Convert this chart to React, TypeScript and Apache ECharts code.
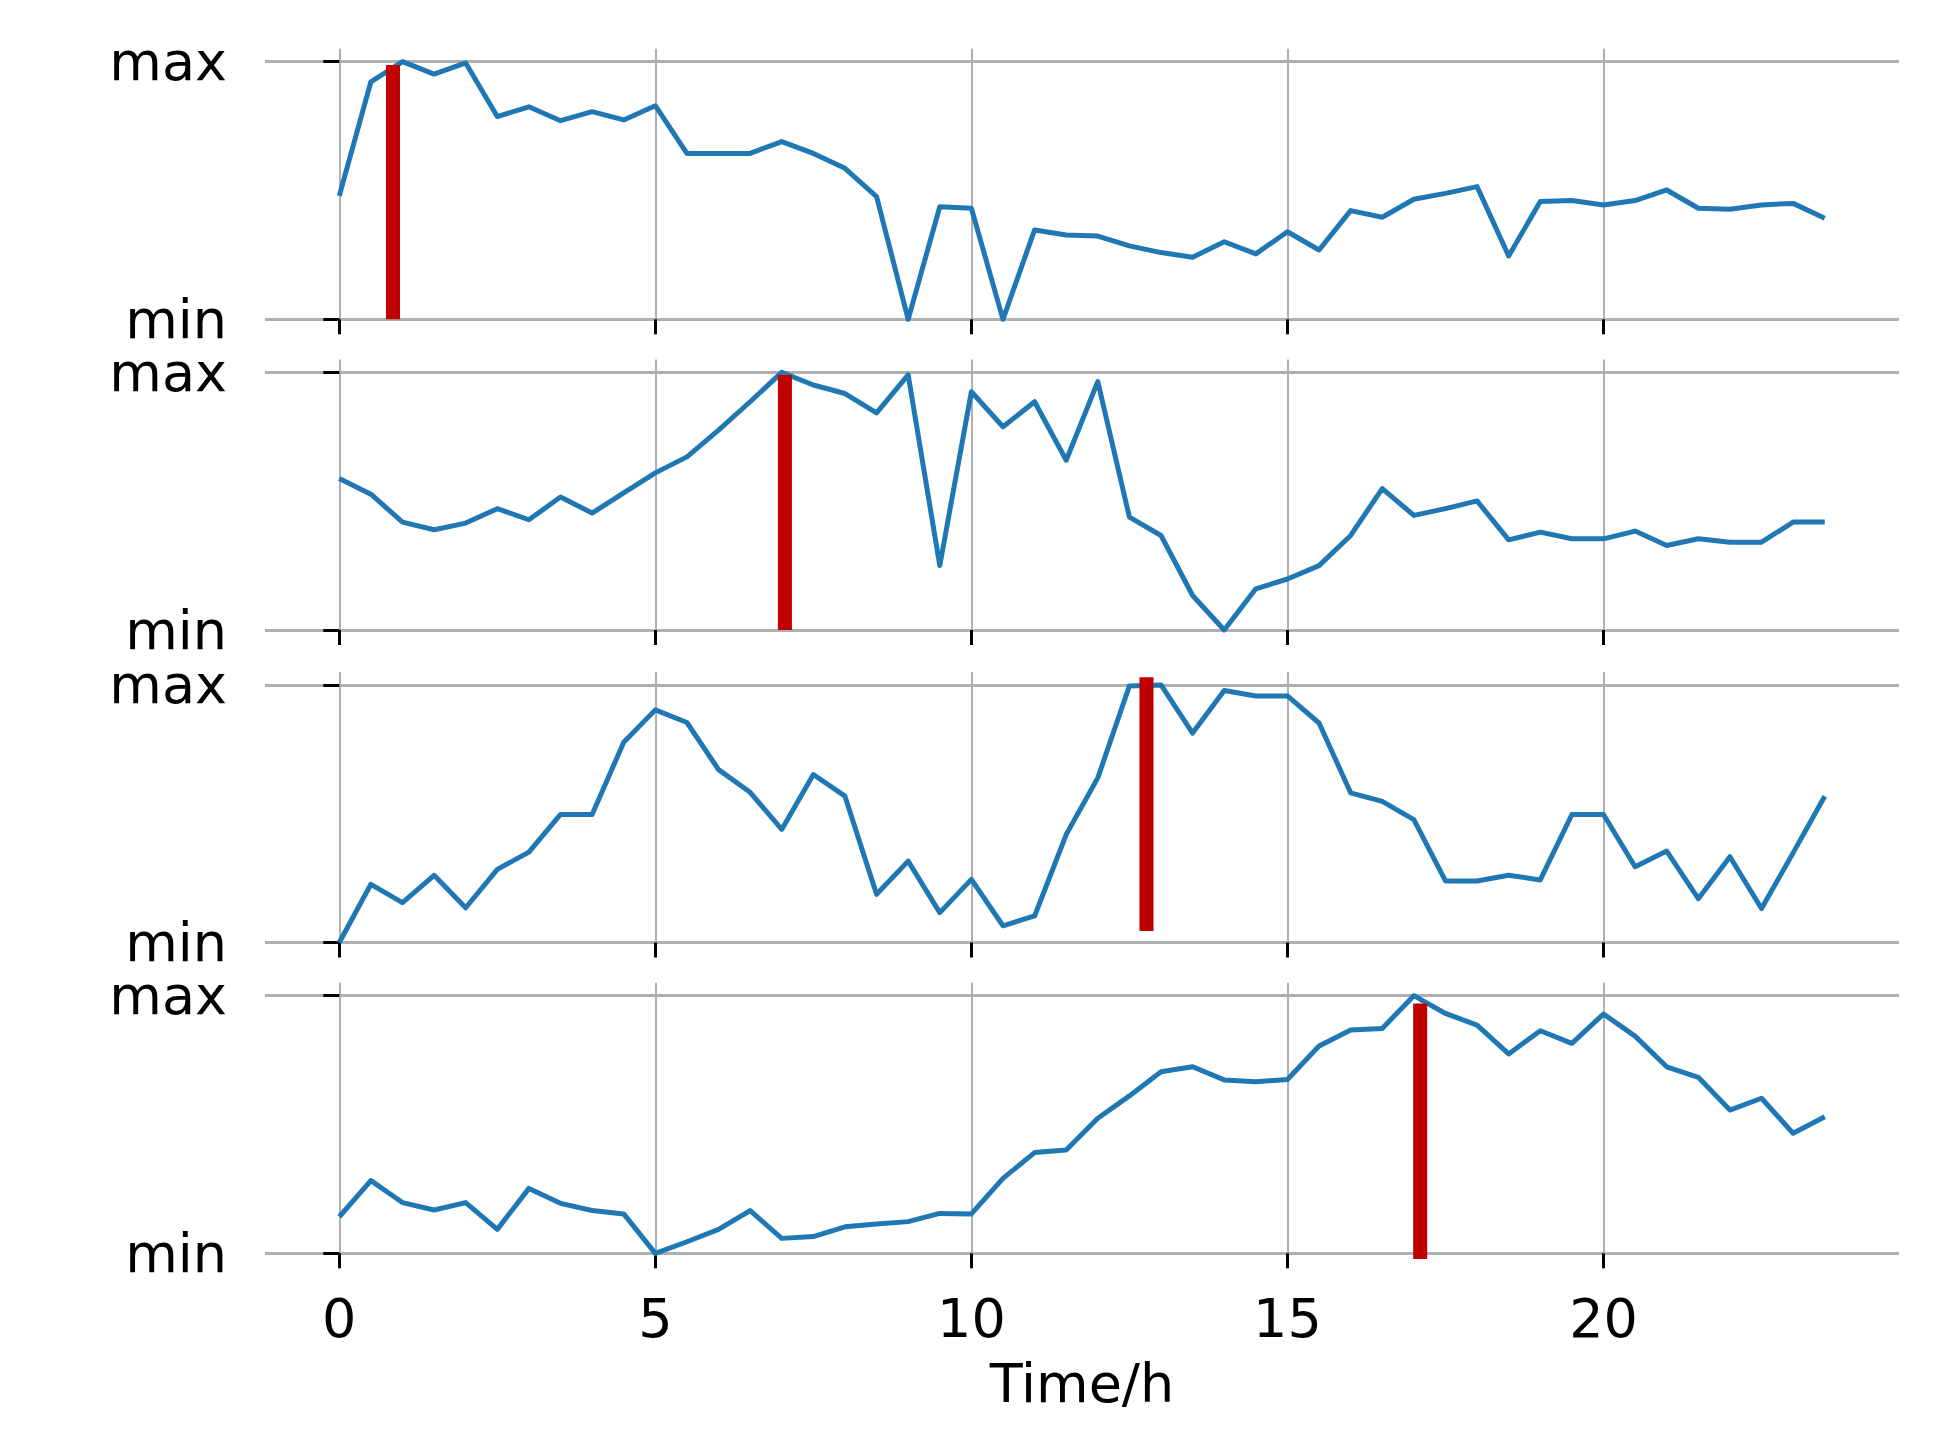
import React, { useEffect, useRef } from "react";
import * as echarts from "echarts";

// Time of day (hours), one sample every half hour
const times = [
  0, 0.5, 1, 1.5, 2, 2.5, 3, 3.5, 4, 4.5, 5, 5.5, 6, 6.5, 7, 7.5, 8, 8.5, 9, 9.5,
  10, 10.5, 11, 11.5, 12, 12.5, 13, 13.5, 14, 14.5, 15, 15.5, 16, 16.5, 17, 17.5,
  18, 18.5, 19, 19.5, 20, 20.5, 21, 21.5, 22, 22.5, 23, 23.5,
];

// Normalised profiles (0 = min, 1 = max)
const profile1 = [
  0.479, 0.922, 1.0, 0.952, 0.995, 0.787, 0.825, 0.771, 0.806, 0.774, 0.829, 0.644,
  0.644, 0.644, 0.69, 0.644, 0.586, 0.476, 0.0, 0.437, 0.431, 0.0, 0.347, 0.327,
  0.323, 0.285, 0.259, 0.241, 0.301, 0.254, 0.34, 0.269, 0.422, 0.396, 0.466, 0.489,
  0.515, 0.246, 0.457, 0.461, 0.444, 0.461, 0.502, 0.431, 0.427, 0.444, 0.45, 0.392,
];
const profile2 = [
  0.588, 0.527, 0.419, 0.389, 0.415, 0.471, 0.428, 0.516, 0.454, 0.532, 0.61, 0.672,
  0.776, 0.886, 1.0, 0.951, 0.918, 0.843, 0.99, 0.25, 0.925, 0.789, 0.886, 0.659,
  0.964, 0.438, 0.367, 0.134, 0.0, 0.16, 0.198, 0.25, 0.367, 0.549, 0.445, 0.471,
  0.501, 0.35, 0.38, 0.354, 0.354, 0.384, 0.328, 0.354, 0.341, 0.341, 0.419, 0.419,
];
const profile3 = [
  0.0, 0.226, 0.155, 0.261, 0.135, 0.284, 0.351, 0.497, 0.497, 0.777, 0.903, 0.854,
  0.671, 0.583, 0.439, 0.652, 0.568, 0.187, 0.316, 0.116, 0.245, 0.065, 0.103, 0.419,
  0.639, 0.996, 1.0, 0.813, 0.978, 0.957, 0.957, 0.852, 0.581, 0.548, 0.477, 0.239,
  0.239, 0.261, 0.243, 0.497, 0.497, 0.294, 0.355, 0.17, 0.333, 0.132, 0.348, 0.568,
];
const profile4 = [
  0.142, 0.282, 0.197, 0.168, 0.197, 0.093, 0.252, 0.194, 0.166, 0.153, 0.0, 0.045,
  0.093, 0.166, 0.058, 0.065, 0.103, 0.114, 0.123, 0.155, 0.153, 0.291, 0.391, 0.401,
  0.524, 0.611, 0.705, 0.724, 0.673, 0.666, 0.675, 0.805, 0.867, 0.873, 1.0, 0.931,
  0.886, 0.774, 0.864, 0.815, 0.929, 0.843, 0.724, 0.683, 0.556, 0.602, 0.466, 0.53,
];
const profiles = [profile1, profile2, profile3, profile4];

// Red markers: time position and vertical extent (in normalised units)
const markerTimes = [0.85, 7.05, 12.77, 17.1];
const markerBottoms = [0, 0, 0.045, -0.022];
const markerTops = [0.987, 0.99, 1.03, 0.97];

const xTickValues = [0, 5, 10, 15, 20];
const yTickValues = [0, 1];
const yTickLabels = ["min", "max"];
const xAxisName = "Time/h";

const FONT = "'DejaVu Sans', sans-serif";

export default function App() {
  const ref = useRef<HTMLDivElement>(null);

  useEffect(() => {
    if (!ref.current) return;
    const chart = echarts.init(ref.current, null, { renderer: "svg" });

    const gridTops = [48.8, 359.5, 672, 982.8];
    const gridLeft = 265;
    const gridWidth = 1634;
    const gridHeight = 283.4;

    const grid = gridTops.map((t) => ({
      left: gridLeft,
      top: t,
      width: gridWidth,
      height: gridHeight,
      containLabel: false,
    }));

    const xAxis = gridTops.map((_, i) => ({
      type: "value",
      gridIndex: i,
      min: -1.175,
      max: 24.675,
      axisLine: { show: false },
      axisTick: {
        show: true,
        length: 15,
        lineStyle: { color: "#000", width: 3 },
        customValues: xTickValues,
      },
      axisLabel: {
        show: i === 3,
        customValues: xTickValues,
        fontSize: 54,
        fontFamily: FONT,
        color: "#000",
        margin: 25,
      },
      splitLine: { show: true, lineStyle: { color: "#b0b0b0", width: 2 } },
      name: i === 3 ? xAxisName : "",
      nameLocation: "middle",
      nameGap: 90,
      nameTextStyle: { fontSize: 54, fontFamily: FONT, color: "#000" },
    }));

    const yAxis = gridTops.map((_, i) => ({
      type: "value",
      gridIndex: i,
      min: -0.05,
      max: 1.05,
      axisLine: { show: false },
      axisTick: {
        show: true,
        length: 16,
        lineStyle: { color: "#000", width: 3 },
        customValues: yTickValues,
      },
      axisLabel: {
        customValues: yTickValues,
        formatter: (v: number) => {
          const idx = yTickValues.indexOf(v);
          return idx >= 0 ? yTickLabels[idx] : "";
        },
        fontSize: 54,
        lineHeight: 40,
        fontFamily: FONT,
        color: "#000",
        margin: 38,
      },
      splitLine: { show: true, lineStyle: { color: "#b0b0b0", width: 3 } },
    }));

    const series: any[] = [];
    profiles.forEach((p, i) => {
      series.push({
        type: "line",
        xAxisIndex: i,
        yAxisIndex: i,
        data: times.map((t, k) => [t, p[k]]),
        symbol: "none",
        lineStyle: { color: "#1f77b4", width: 5, join: "round" },
        z: 3,
      });
      series.push({
        type: "line",
        xAxisIndex: i,
        yAxisIndex: i,
        data: [
          [markerTimes[i], markerBottoms[i]],
          [markerTimes[i], markerTops[i]],
        ],
        symbol: "none",
        lineStyle: { color: "#c00000", width: 14, cap: "butt" },
        z: 4,
      });
    });

    chart.setOption({
      animation: false,
      backgroundColor: "#ffffff",
      grid,
      xAxis,
      yAxis,
      series,
    });

    return () => chart.dispose();
  }, []);

  return (
    <div
      ref={ref}
      style={{ position: "absolute", left: 0, top: 0, width: 1953, height: 1440 }}
    />
  );
}
